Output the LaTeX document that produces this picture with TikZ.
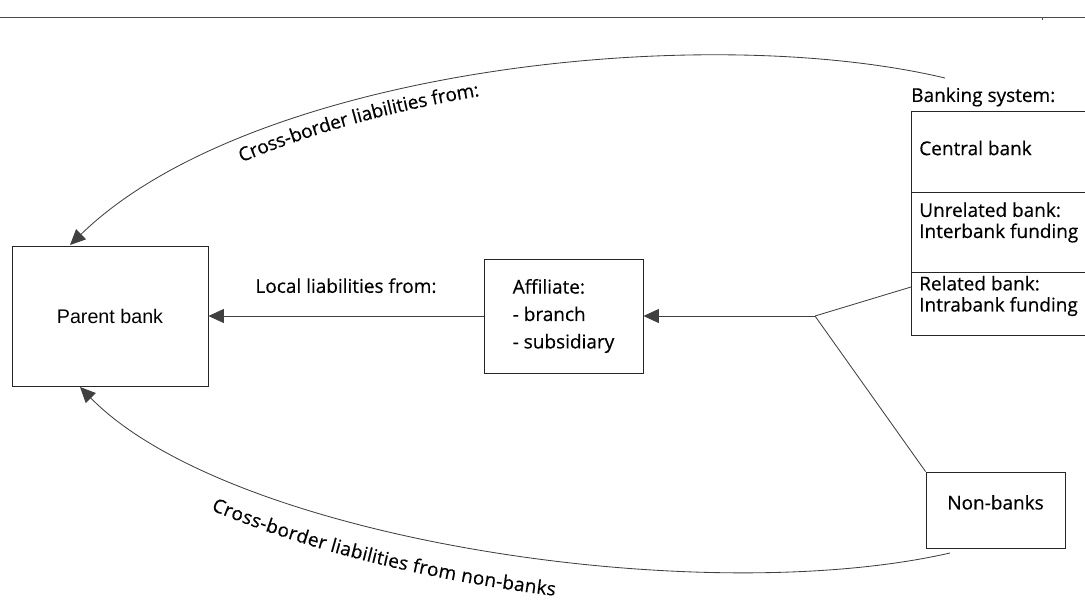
\documentclass[tikz,border=0pt]{standalone}
\usepackage{fontspec}
\setmainfont{Open Sans}[FakeBold=0.4]
\newfontfamily\arialfont{Liberation Sans}
\usetikzlibrary{arrows.meta,decorations.text}
\begin{document}
\begin{tikzpicture}[x=0.025cm, y=-0.025cm, >={Triangle[length=11pt,width=10pt]}]
        \def\fsize{\fontsize{13.5}{15}\selectfont}
        \tikzstyle{box}=[draw=black!85, line width=0.6pt, inner sep=0pt]
        \tikzstyle{edge}=[draw=black!75, line width=0.6pt]
        \tikzstyle{txt}=[inner sep=0pt, font=\fsize]
        \useasboundingbox (0,0) rectangle (1085,605);

        % Rule
        \draw [black!70, line width=0.6pt] (0,17) -- (1085,17);
        \draw [black!70, line width=0.6pt] (1042,17) -- (1042,20);

        % Parent
        \draw node at (110,316) [box, minimum width=4.9cm, minimum height=3.5cm, font=\arialfont\fontsize{14}{16}\selectfont] (parent) {Parent bank};

        % Affiliate
        \draw node at (563.5,316) [box, minimum width=3.975cm, minimum height=2.85cm, align=left, font=\fontsize{13.5}{19.5}\selectfont] (affiliate) {Affiliate:\\- branch\\- subsidiary};

        % Banking system
        \draw node at (911,97) [txt, anchor=west] (bank_title) {Banking system:};
        \draw node at (911,111) [box, anchor=north west, minimum width=4.45cm, minimum height=2.025cm] (central) {};
        \draw node at (911,192) [box, anchor=north west, minimum width=4.45cm, minimum height=2cm] (unrelated) {};
        \draw node at (911,272) [box, anchor=north west, minimum width=4.45cm, minimum height=1.575cm] (related) {};
        \draw node at (919,148) [txt, anchor=west] (central_txt) {Central bank};
        \draw node at (919,222.5) [txt, anchor=west, align=left] (unrelated_txt) {Unrelated bank:\\Interbank funding};
        \draw node at (919,296) [txt, anchor=west, align=left] (related_txt) {Related bank:\\Intrabank funding};

        % Non-banks
        \draw node at (995.5,510) [box, txt, text depth=11pt, minimum width=3.475cm, minimum height=1.9cm] (nonbank) {Non-banks};

        % Connectors
        \coordinate (split) at (815,316);
        \coordinate (related_in) at (911,287);
        \draw [edge] (related_in) -- (split);
        \draw [edge] (nonbank.north west) -- (split);
        \draw [edge, ->] (split) -- (affiliate.east);
        \draw [edge, ->] (affiliate.west) to node[txt, above=16pt] (local_lbl) {Local liabilities from:} (parent.east);

        % Cross-border
        \coordinate (bank_out) at (945,78);
        \coordinate (parent_top) at (70,245);
        \coordinate (nonbank_out) at (950,553);
        \coordinate (parent_bottom) at (80,387);
        \draw [edge, ->] (bank_out) .. controls (700,20) and (250,70) .. (parent_top);
        \path [decorate, decoration={text along path, raise=-15pt, text align={left indent=138pt},
            text={|\fsize|Cross-border liabilities from:}}] (parent_top) .. controls (250,70) and (700,20) .. (bank_out);
        \draw [edge, ->] (nonbank_out) .. controls (700,610) and (230,540) .. (parent_bottom);
        \path [decorate, decoration={text along path, raise=-25pt, text align={left indent=122pt},
            text={|\fsize|Cross-border liabilities from non-banks}}] (parent_bottom) .. controls (230,540) and (700,610) .. (nonbank_out);

\end{tikzpicture}
\end{document}
